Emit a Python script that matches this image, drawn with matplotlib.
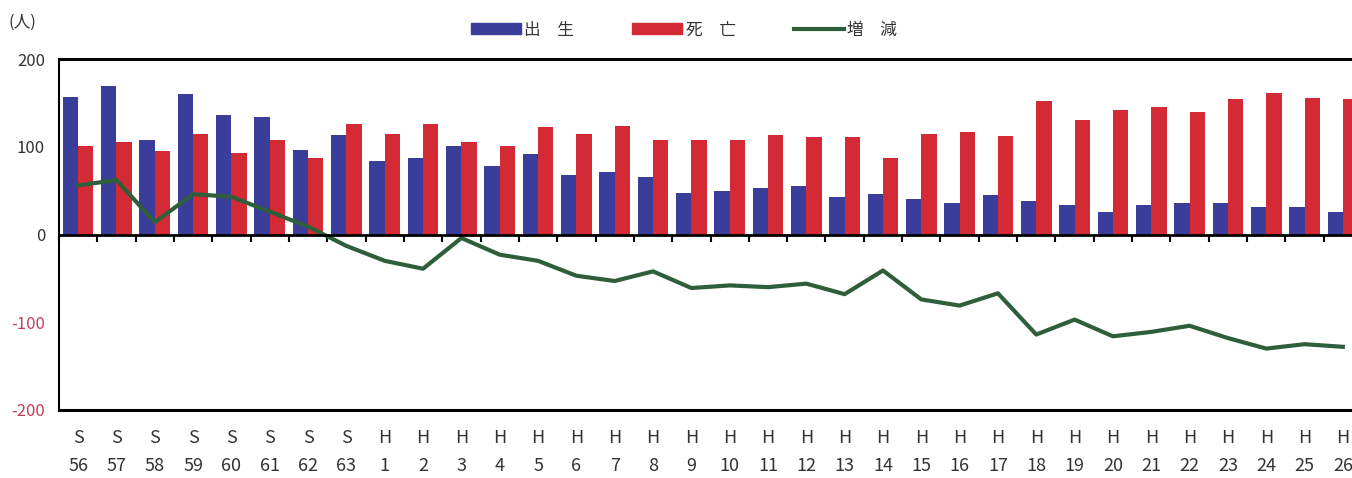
import matplotlib
matplotlib.use('Agg')
import matplotlib.pyplot as plt
import numpy as np
from matplotlib.patches import Patch
from matplotlib.lines import Line2D

plt.rcParams['font.family'] = ['Noto Sans CJK JP', 'DejaVu Sans']

# 年次ラベル
eras = ['S'] * 8 + ['H'] * 26
years = ['56', '57', '58', '59', '60', '61', '62', '63'] + [str(i) for i in range(1, 27)]

# 出生・死亡・増減 (人)
births = [157, 169, 108, 160, 136, 134, 96, 113, 84, 87, 101, 78, 92, 68, 71, 66, 47,
          50, 53, 55, 43, 46, 40, 36, 45, 38, 34, 26, 34, 36, 36, 31, 31, 26]
deaths = [101, 105, 95, 114, 93, 108, 87, 126, 114, 126, 105, 101, 122, 115, 124, 108, 108,
          108, 113, 111, 111, 87, 114, 117, 112, 152, 131, 142, 145, 140, 154, 161, 156, 154]
change = [56, 62, 14, 46, 43, 26, 9, -13, -30, -39, -4, -23, -30, -47, -53, -42, -61,
          -58, -60, -56, -68, -41, -74, -81, -67, -114, -97, -116, -111, -104, -118, -130, -125, -128]

blue = '#3a3d9a'
red = '#d42a36'
green = '#2f5f3a'

fig = plt.figure(figsize=(13.52, 4.78), dpi=100)
ax = fig.add_axes([59 / 1352, 68 / 478, 1303 / 1352, 351 / 478])

x = np.arange(len(years))
w = 0.4
ax.bar(x - w / 2, births, width=w, color=blue, zorder=2)
ax.bar(x + w / 2, deaths, width=w, color=red, zorder=2)
ax.plot(x, change, color=green, linewidth=3, zorder=3)

ax.set_xlim(-0.5, len(years) - 0.5)
ax.set_ylim(-200, 200)
ax.set_yticks([200, 100, 0, -100, -200])
ax.set_yticklabels(['200', '100', '0', '-100', '-200'], fontsize=12)
for lab in ax.get_yticklabels()[3:]:
    lab.set_color('#c0405a')
for lab in ax.get_yticklabels()[:3]:
    lab.set_color('#333333')
ax.tick_params(axis='y', length=0, pad=10)

ax.set_xticks(x)
ax.set_xticklabels([e + '\n' + y for e, y in zip(eras, years)], fontsize=13,
                   color='#333333', linespacing=1.7)
ax.tick_params(axis='x', length=0, pad=14)

for s in ['top', 'bottom']:
    ax.spines[s].set_linewidth(2.2)
ax.spines['left'].set_linewidth(1.5)
ax.spines['right'].set_visible(False)

# 0 line with boundary ticks below it
ax.axhline(0, color='black', linewidth=2, zorder=4)
sec = ax.secondary_xaxis(0.5)
sec.xaxis.set_ticks_position('bottom')
sec.set_xticks(np.arange(len(years) + 1) - 0.5)
sec.set_xticklabels([])
sec.tick_params(axis='x', which='both', direction='out', length=5, width=1.5,
                top=False, bottom=True)
for s in sec.spines.values():
    s.set_visible(False)

fig.text(22 / 1352, 1 - 22 / 478, '(人)', fontsize=12, color='#333333',
         ha='center', va='center')

handles = [Patch(color=blue), Patch(color=red), Line2D([], [], color=green, linewidth=3)]
fig.legend(handles, ['出\u3000生', '死\u3000亡', '増\u3000減'], loc='center', ncol=3,
           bbox_to_anchor=(684 / 1352, 1 - 30 / 478), frameon=False,
           handlelength=3.0, handleheight=0.6, handletextpad=0.2, columnspacing=3.5,
           prop={'size': 12}, labelcolor='#333333')

fig.savefig('out.png', dpi=100)
